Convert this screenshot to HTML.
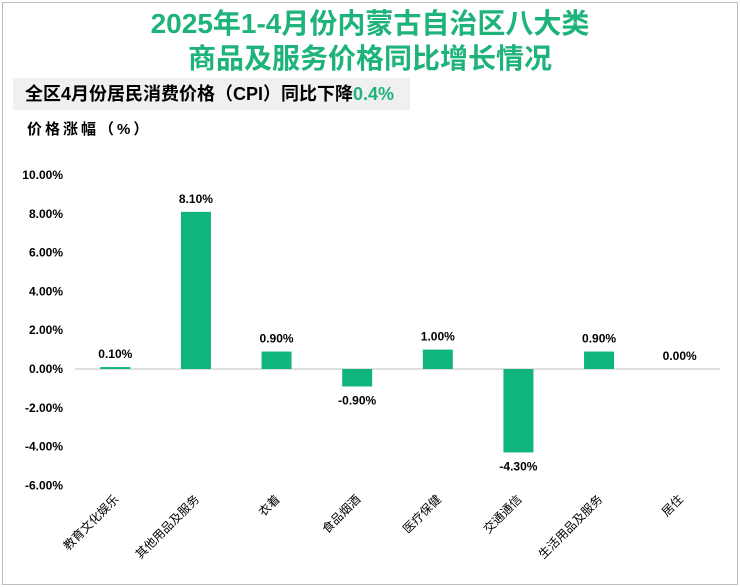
<!DOCTYPE html>
<html><head><meta charset="utf-8"><style>
body{margin:0;background:#fff;}
#wrap{position:relative;width:740px;height:587px;overflow:hidden;font-family:"Liberation Sans","Noto Sans CJK SC",sans-serif;}
#frame{position:absolute;left:2px;top:2px;width:734px;height:581px;border:1px solid #bdbdbd;}
#title{position:absolute;left:0;width:740px;top:6px;text-align:center;color:#1db37a;font-size:28px;font-weight:bold;line-height:35px;}
#sub{position:absolute;left:13px;top:78px;width:397px;height:32px;background:#f0f0f0;font-size:18px;font-weight:bold;line-height:32px;padding-left:12px;box-sizing:border-box;white-space:nowrap;}
#ylab{position:absolute;left:27px;top:118px;font-size:15px;font-weight:bold;letter-spacing:3px;}
svg{position:absolute;left:0;top:0;}
</style></head><body>
<div id="wrap">
<div id="frame"></div>
<div id="title">2025年1-4月份内蒙古自治区八大类<br>商品及服务价格同比增长情况</div>
<div id="sub">全区4月份居民消费价格（CPI）同比下降<span style="color:#1db37a">0.4%</span></div>
<div id="ylab">价格涨幅（%）</div>
<svg id="svg" width="740" height="587"></svg>
</div>
<script>
const categories=["教育文化娱乐","其他用品及服务","衣着","食品烟酒","医疗保健","交通通信","生活用品及服务","居住"];
const values=[0.10,8.10,0.90,-0.90,1.00,-4.30,0.90,0.00];
const ticks=[10,8,6,4,2,0,-2,-4,-6];
const ns="http://www.w3.org/2000/svg";
const svg=document.getElementById('svg');
const x0=75,x1=720,y0=369,pp=19.4;
const y=v=>y0-v*pp;
const bw=(x1-x0)/categories.length;
function mk(t,a,txt){const e=document.createElementNS(ns,t);for(const k in a)e.setAttribute(k,a[k]);if(txt!==undefined)e.textContent=txt;svg.appendChild(e);return e;}
ticks.forEach(t=>{
 const e=mk('text',{x:63,y:y(t)+4,'text-anchor':'end','font-size':12,'font-weight':'bold',fill:'#000'},t.toFixed(2)+'%');
 
 
});
const ax=mk('line',{x1:x0,x2:x1,y1:y0,y2:y0,stroke:'#bfbfbf','stroke-width':1});


categories.forEach((c,i)=>{
 const cx=x0+bw*(i+0.5),v=values[i];
 const top=Math.min(y(v),y0),h=Math.abs(y(v)-y0);
 const r=mk('rect',{x:cx-15,y:top,width:30,height:h,fill:'#10b47d'});
 
 
 const ly=v>=0?y(v)-9:y(v)+18;
 const l=mk('text',{x:cx,y:ly,'text-anchor':'middle','font-size':12,'font-weight':'bold',fill:'#000'},v.toFixed(2)+'%');
 
 
 const tl=mk('text',{x:cx+4,y:500,'text-anchor':'end','font-size':12,fill:'#000',transform:`rotate(-45 ${cx+4} 500)`},c);
 
 
});
</script>
</body></html>
